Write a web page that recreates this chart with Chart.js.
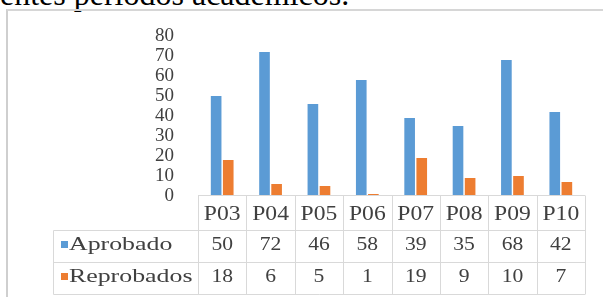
<!DOCTYPE html>
<html>
<head>
<meta charset="utf-8">
<script src="https://cdn.jsdelivr.net/npm/chart.js@4/dist/chart.umd.min.js"></script>
<style>
  html, body { margin: 0; padding: 0; background: #fff; }
  #wrap { position: relative; width: 603px; height: 297px; overflow: hidden; }
  #caption {
    position: absolute; left: 0; top: -22px; white-space: nowrap;
    font: 32px/32px "Liberation Serif", "Times New Roman", serif; color: #000;
  }
  #frame {
    position: absolute; left: 6px; top: 9px; width: 640px; height: 320px;
    border-left: 2px solid #cfcfcf; border-top: 2px solid #d6d6d6;
  }
  #chartBox { position: absolute; left: 0; top: 0; width: 603px; height: 297px; }
</style>
</head>
<body>
<div id="wrap">
  <div id="caption">entes períodos académicos.</div>
  <div id="frame"></div>
  <div id="chartBox"><canvas id="grades"></canvas></div>
</div>
<script>
// data
const categories = ['P03', 'P04', 'P05', 'P06', 'P07', 'P08', 'P09', 'P10'];
const aprobado = [50, 72, 46, 58, 39, 35, 68, 42];
const reprobados = [18, 6, 5, 1, 19, 9, 10, 7];
const seriesNames = ['Aprobado', 'Reprobados'];
const yMax = 80;
const yStep = 10;

const blue = '#5b9bd5';
const orange = '#ed7d31';
const textGrey = '#404040';
const serif = '"Liberation Serif", "Times New Roman", serif';

// draws the excel-like data table under the plot
const dataTable = {
  id: 'dataTable',
  afterDraw(chart) {
    const ctx = chart.ctx;
    const xs = chart.scales.x;
    const top = Math.round(chart.chartArea.bottom) - 0.5;
    const colW = (xs.right - xs.left) / categories.length;
    const left = 53.5;
    const right = xs.right;
    const rowY = [top, top + 35, top + 67, top + 99];

    ctx.save();
    ctx.strokeStyle = '#d9d9d9';
    ctx.lineWidth = 1;
    ctx.beginPath();
    ctx.moveTo(xs.left, rowY[0]); ctx.lineTo(right, rowY[0]);
    for (let r = 1; r < 4; r++) {
      ctx.moveTo(left, rowY[r]); ctx.lineTo(right, rowY[r]);
    }
    ctx.moveTo(left, rowY[1]); ctx.lineTo(left, rowY[3]);
    for (let i = 0; i <= categories.length; i++) {
      const x = Math.round(xs.left + i * colW) + 0.5;
      ctx.moveTo(x, rowY[0]); ctx.lineTo(x, rowY[3]);
    }
    ctx.stroke();

    const stretched = (txt, x, y, sx) => {
      ctx.save();
      ctx.translate(x, y);
      ctx.scale(sx, 1);
      ctx.fillText(txt, 0, 0);
      ctx.restore();
    };

    ctx.fillStyle = textGrey;
    ctx.textBaseline = 'alphabetic';
    ctx.textAlign = 'center';
    ctx.font = '20px ' + serif;
    categories.forEach((c, i) => {
      stretched(c, xs.getPixelForValue(i), top + 24, 1.18);
    });

    const rows = [aprobado, reprobados];
    const colors = [blue, orange];
    rows.forEach((vals, r) => {
      const base = top + 54.5 + r * 32;
      ctx.font = '18px ' + serif;
      vals.forEach((v, i) => {
        ctx.textAlign = 'center';
        stretched(String(v), xs.getPixelForValue(i), base, 1.2);
      });
      ctx.fillStyle = colors[r];
      ctx.fillRect(61, base - 9, 7, 7);
      ctx.fillStyle = textGrey;
      ctx.textAlign = 'left';
      ctx.font = '19px ' + serif;
      stretched(seriesNames[r], 69, base, 1.36);
    });
    ctx.restore();
  }
};

new Chart(document.getElementById('grades'), {
  type: 'bar',
  data: {
    labels: categories,
    datasets: [
      { label: seriesNames[0], data: aprobado, backgroundColor: blue },
      { label: seriesNames[1], data: reprobados, backgroundColor: orange }
    ]
  },
  options: {
    responsive: true,
    maintainAspectRatio: false,
    animation: false,
    layout: { padding: { left: 0, right: 18, top: 36, bottom: 101 } },
    datasets: { bar: { categoryPercentage: 0.5, barPercentage: 0.88 } },
    plugins: { legend: { display: false }, tooltip: { enabled: false } },
    scales: {
      x: { display: false },
      y: {
        min: 0,
        max: yMax,
        afterFit(scale) { scale.width = 198; },
        border: { display: false },
        grid: { display: false, drawTicks: false },
        ticks: {
          stepSize: yStep,
          autoSkip: false,
          padding: 24,
          color: textGrey,
          font: { family: serif, size: 19 }
        }
      }
    }
  },
  plugins: [dataTable]
});
</script>
</body>
</html>
